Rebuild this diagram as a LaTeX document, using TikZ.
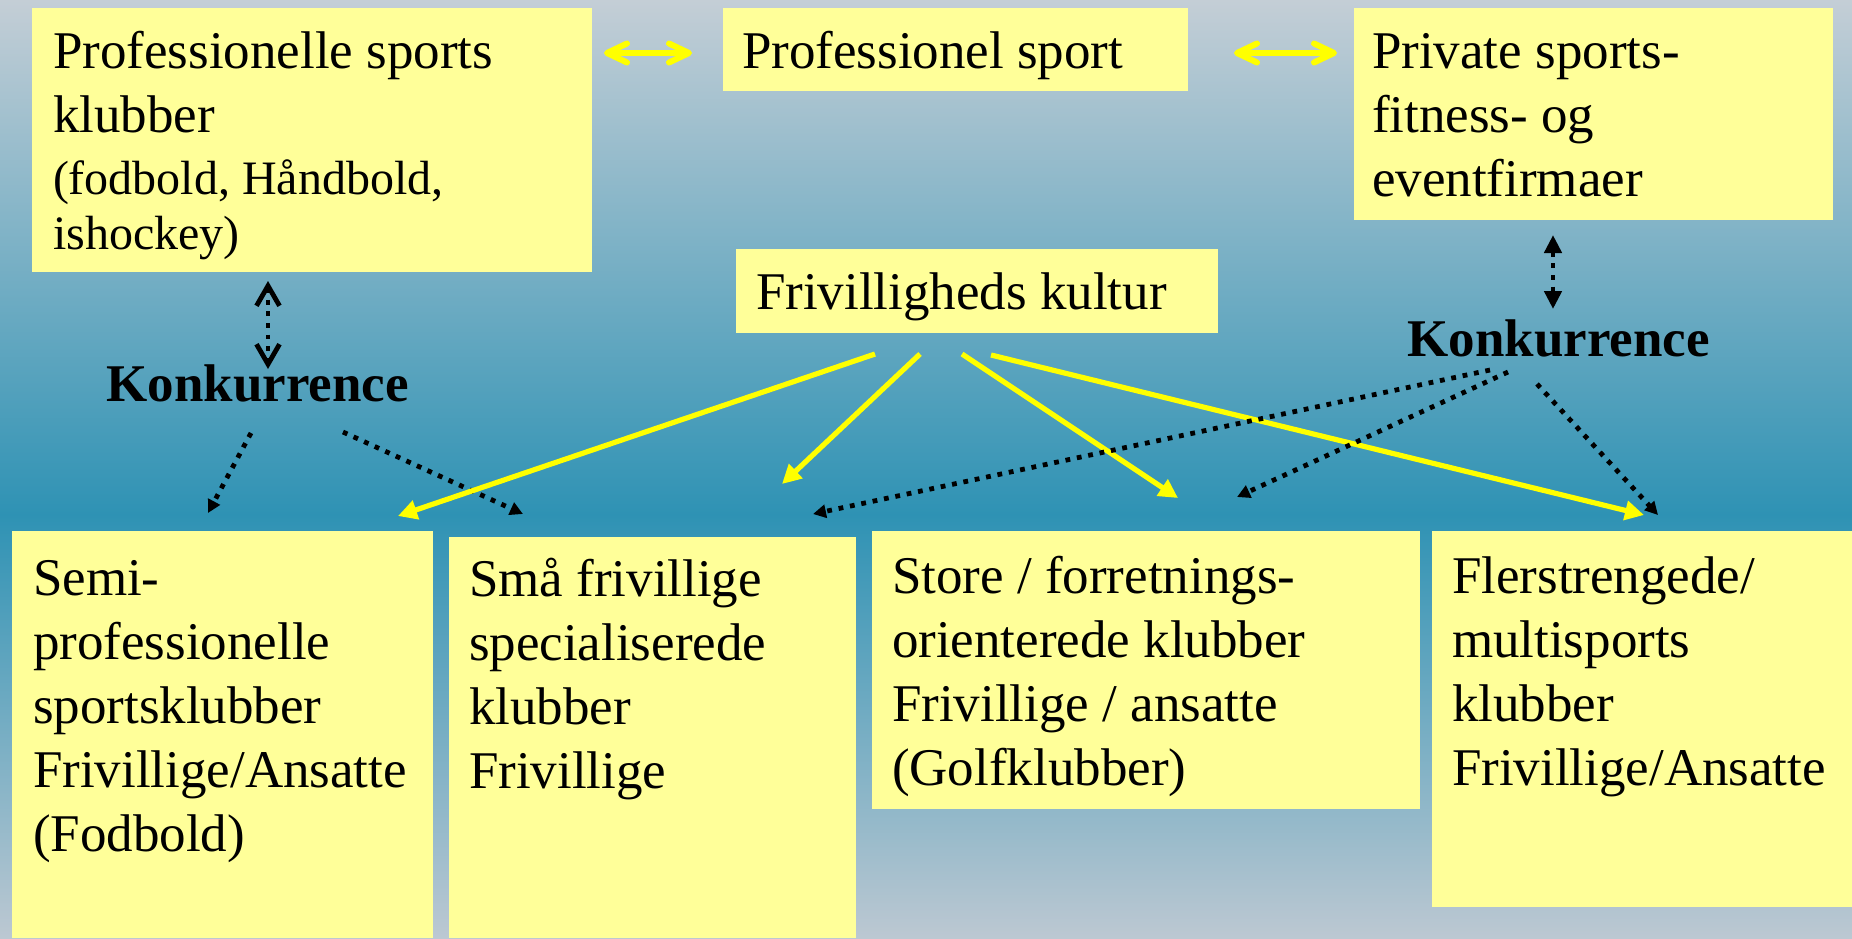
\documentclass[tikz,border=0pt]{standalone}
\usepackage{fontspec}
\setmainfont{Liberation Serif}
\usetikzlibrary{arrows.meta}
\definecolor{boxyellow}{HTML}{FFFF99}
\definecolor{arrowyellow}{HTML}{FFFF00}
\definecolor{bgtop}{HTML}{C4CED6}
\definecolor{bgmid}{HTML}{2E92B4}
\definecolor{bgbot}{HTML}{BCC8D2}
\begin{document}
\begin{tikzpicture}[x=0.5pt, y=-0.5pt,
  box/.style={fill=boxyellow, draw=none, anchor=north west, inner sep=0pt, outer sep=0pt},
  txt/.style={anchor=north west, inner sep=0pt, outer sep=0pt, align=left, font=\fontsize{26.5}{32}\selectfont},
  konk/.style={anchor=base west, inner sep=0pt, font=\fontsize{26.5}{32}\selectfont\bfseries},
  yarrow/.style={draw=arrowyellow, line width=2.6pt, -{Triangle[length=9.5pt,width=9.5pt]}},
  ydouble/.style={draw=arrowyellow, line width=3pt, line cap=round,
    {Straight Barb[round,length=10pt,width=9.5pt]}-{Straight Barb[round,length=10pt,width=9.5pt]}},
  dotline/.style={draw=black, line width=2.4pt, dash pattern=on 2.4pt off 3.4pt},
  kdot/.style={dotline, -{Triangle[length=6.5pt,width=6.5pt]}},
  bdoubleopen/.style={dotline, {Straight Barb[length=10pt,width=11.5pt]}-{Straight Barb[length=10pt,width=11.5pt]}},
  bdoublefill/.style={dotline, {Triangle[length=9pt,width=8.5pt]}-{Triangle[length=9pt,width=8.5pt]}}
]
% background
\useasboundingbox (0,0) rectangle (1852,938);
\fill[top color=bgtop, bottom color=bgmid] (0,0) rectangle (1852,516);
\fill[top color=bgmid, bottom color=bgbot] (0,514) rectangle (1852,938);

% boxes
\node[box, minimum width=280pt, minimum height=132pt] (b1) at (32,8) {};
\node[box, minimum width=232.5pt, minimum height=41.5pt] (b2) at (723,8) {};
\node[box, minimum width=239.5pt, minimum height=106pt] (b3) at (1354,8) {};
\node[box, minimum width=241pt, minimum height=42pt] (fk) at (736,249) {};
\node[box, minimum width=210.5pt, minimum height=203.5pt] (semi) at (12,531) {};
\node[box, minimum width=203.5pt, minimum height=200.5pt] (sma) at (449,537) {};
\node[box, minimum width=274pt, minimum height=139pt] (store) at (872,531) {};
\node[box, minimum width=210pt, minimum height=188pt] (fler) at (1432,531) {};

% texts
\node[txt] (b1t) at (53,23.7) {\strut Professionelle sports\\klubber\\[-1pt]{\fontsize{24}{28}\selectfont (fodbold, Håndbold,}\\[-4.5pt]{\fontsize{24}{28}\selectfont ishockey)}};
\node[txt] (b2t) at (742,23.7) {\strut Professionel sport};
\node[txt] (b3t) at (1372,23.7) {\strut Private sports-\\fitness- og\\eventfirmaer};
\node[txt] (fkt) at (756,264.2) {\strut Frivilligheds kultur};
\node[txt] (semit) at (33,550.7) {\strut Semi-\\professionelle\\sportsklubber\\Frivillige/Ansatte\\(Fodbold)};
\node[txt] (smat) at (469,551.7) {\strut Små frivillige\\specialiserede\\klubber\\Frivillige};
\node[txt] (storet) at (892,548.7) {\strut Store / forretnings-\\orienterede klubber\\Frivillige / ansatte\\(Golfklubber)};
\node[txt] (flert) at (1452,548.7) {\strut Flerstrengede/\\multisports\\klubber\\Frivillige/Ansatte};

\node[konk] (konkL) at (106,401) {Konkurrence};
\node[konk] (konkR) at (1407,356) {Konkurrence};

% coordinates for connector ends
\coordinate (d1a) at (604,53);
\coordinate (d1b) at (692,53);
\coordinate (d2a) at (1234,53);
\coordinate (d2b) at (1337,53);
\coordinate (f1) at (875,354);
\coordinate (t1) at (398,516);
\coordinate (f2) at (920,354);
\coordinate (t2) at (782,484);
\coordinate (f3) at (962,354);
\coordinate (t3) at (1178,498);
\coordinate (f4) at (991,355);
\coordinate (t4) at (1644,515);
\coordinate (lv1) at (268,281);
\coordinate (lv2) at (268,369);
\coordinate (rv1) at (1553,235);
\coordinate (rv2) at (1553,309);
\coordinate (lk1s) at (251,433);
\coordinate (lk1e) at (208,513);
\coordinate (lk2s) at (343,432);
\coordinate (lk2e) at (523,514);
\coordinate (rk1s) at (1490,370);
\coordinate (rk1e) at (813,514);
\coordinate (rk2s) at (1508,372);
\coordinate (rk2e) at (1237,497);
\coordinate (rk3s) at (1537,384);
\coordinate (rk3e) at (1658,515);

% connectors
\draw[ydouble] (d1a) -- (d1b);
\draw[ydouble] (d2a) -- (d2b);
\draw[bdoubleopen] (lv1) -- (lv2);
\draw[bdoublefill] (rv1) -- (rv2);
\draw[kdot] (lk1s) -- (lk1e);
\draw[kdot] (lk2s) -- (lk2e);
\draw[yarrow] (f1) -- (t1);
\draw[yarrow] (f2) -- (t2);
\draw[yarrow] (f3) -- (t3);
\draw[yarrow] (f4) -- (t4);
\draw[kdot] (rk1s) -- (rk1e);
\draw[kdot] (rk2s) -- (rk2e);
\draw[kdot] (rk3s) -- (rk3e);
\end{tikzpicture}
\end{document}
